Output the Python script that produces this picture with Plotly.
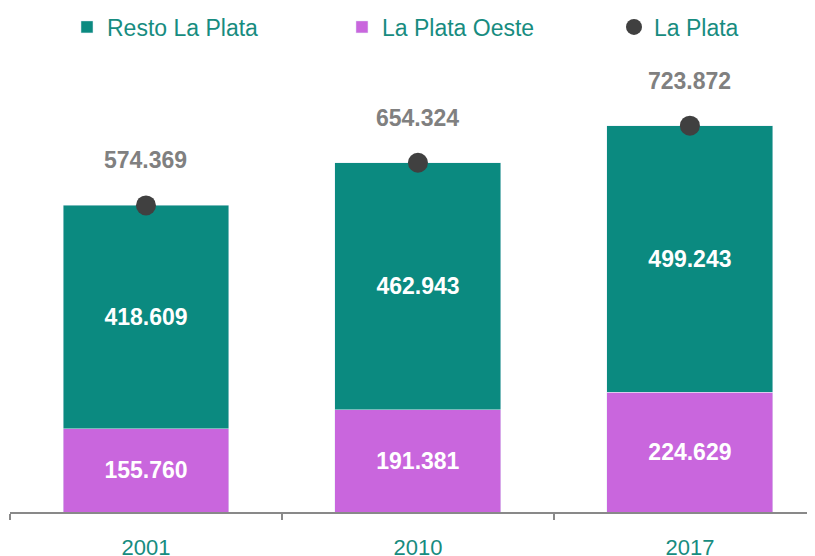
import plotly.graph_objects as go

years = ["2001", "2010", "2017"]
oeste = [155.760, 191.381, 224.629]
resto = [418.609, 462.943, 499.243]
total = [574.369, 654.324, 723.872]

TEAL = "#0b8a80"
PURPLE = "#c966dd"
DOT = "#404040"
TXT_TEAL = "#178c80"
GRAY = "#808080"
FONT = "Liberation Sans"


def fmt(v):
    return f"{v:.3f}"


fig = go.Figure()

fig.add_trace(go.Bar(x=years, y=oeste, name="La Plata Oeste", marker_color=PURPLE,
                     text=[fmt(v) for v in oeste], textposition="inside",
                     insidetextanchor="middle", legend="legend2",
                     textfont=dict(color="white", size=23, family=FONT, weight="bold")))
fig.add_trace(go.Bar(x=years, y=resto, name="Resto La Plata", marker_color=TEAL,
                     text=[fmt(v) for v in resto], textposition="inside",
                     insidetextanchor="middle", legend="legend",
                     textfont=dict(color="white", size=23, family=FONT, weight="bold")))
fig.add_trace(go.Scatter(x=years, y=total, name="La Plata", mode="markers",
                         marker=dict(color=DOT, size=20), legend="legend3"))

# total labels above the dots
for i, v in enumerate(total):
    fig.add_annotation(x=i, y=v, text=f"<b>{fmt(v)}</b>", showarrow=False,
                       yshift=45, font=dict(color=GRAY, size=23, family=FONT))

leg = dict(orientation="h", y=1.136, xanchor="left", yanchor="middle",
           font=dict(color=TXT_TEAL, size=23, family=FONT), itemwidth=30,
           bgcolor="rgba(0,0,0,0)")

# page body adds an 8px offset, so the figure is sized 8px smaller
fig.update_layout(
    width=807, height=548,
    margin=dict(l=2, r=0, t=77, b=44, autoexpand=False),
    barmode="stack", bargap=0.39,
    plot_bgcolor="white", paper_bgcolor="white",
    uniformtext=dict(minsize=23, mode="show"),
    showlegend=True,
    legend=dict(leg, x=0.0708),
    legend2=dict(leg, x=0.4124),
    legend3=dict(leg, x=0.7503),
    font=dict(family=FONT),
)
fig.update_xaxes(type="category", range=[-0.5, 2.46], tickson="boundaries",
                 showline=True, linecolor="#898989", linewidth=1.5,
                 ticks="outside", ticklen=6, tickcolor="#898989", tickwidth=1.5,
                 tickfont=dict(color=TXT_TEAL, size=22), ticklabelstandoff=15,
                 showgrid=False)
fig.update_yaxes(range=[0, 800], visible=False, showgrid=False)

fig.write_html("out.html")
